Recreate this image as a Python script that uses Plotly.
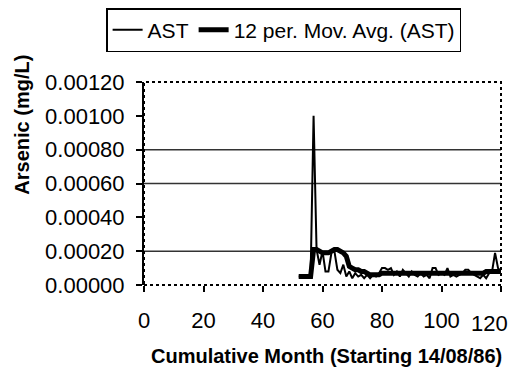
import plotly.graph_objects as go

# ---- data ----
months = list(range(52, 121))
ast = [
    0.00005, 0.00005, 0.00005, 0.00005, 0.00005,   # 52-56
    0.00100, 0.00021, 0.00012, 0.00020, 0.00008,   # 57-61
    0.00008, 0.00019, 0.00020, 0.00009, 0.00007,   # 62-66
    0.00012, 0.00005, 0.00008, 0.00004, 0.00007,   # 67-71
    0.00005, 0.00006, 0.00004, 0.00006, 0.00004,   # 72-76
    0.00006, 0.00005, 0.00007, 0.00010, 0.00010,   # 77-81
    0.00009, 0.00010, 0.00006, 0.00008, 0.00005,   # 82-86
    0.00009, 0.00007, 0.00005, 0.00008, 0.00006,   # 87-91
    0.00005, 0.00007, 0.00005, 0.00006, 0.00004,   # 92-96
    0.00010, 0.00010, 0.00006, 0.00007, 0.00006,   # 97-101
    0.00010, 0.00005, 0.00006, 0.00005, 0.00006,   # 102-106
    0.00007, 0.00009, 0.00009, 0.00007, 0.00006,   # 107-111
    0.00005, 0.00004, 0.00006, 0.00004, 0.00007,   # 112-116
    0.00008, 0.00019, 0.00010, 0.00008,            # 117-120
]
mov_avg = [
    0.00005, 0.00005, 0.00005, 0.00005, 0.00005,   # 52-56
    0.00021, 0.00021, 0.00020, 0.00019, 0.00019,   # 57-61
    0.00019, 0.00020, 0.00021, 0.00021, 0.00020,   # 62-66
    0.00019, 0.00017, 0.00011, 0.00010, 0.00009,   # 67-71
    0.00009, 0.00008, 0.00008, 0.00007, 0.00006,   # 72-76
    0.00006, 0.00006, 0.00006, 0.00007, 0.00007,   # 77-81
    0.00007, 0.00007, 0.00007, 0.00007, 0.00007,   # 82-86
    0.00007, 0.00007, 0.00007, 0.00007, 0.00007,   # 87-91
    0.00007, 0.00007, 0.00007, 0.00007, 0.00007,   # 92-96
    0.00007, 0.00007, 0.00007, 0.00007, 0.00007,   # 97-101
    0.00007, 0.00007, 0.00007, 0.00007, 0.00007,   # 102-106
    0.00007, 0.00007, 0.00007, 0.00007, 0.00007,   # 107-111
    0.00007, 0.00007, 0.00007, 0.00008, 0.00008,   # 112-116
    0.00008, 0.00008, 0.00008, 0.00008,            # 117-120
]
y_ticks = [0.0, 0.0002, 0.0004, 0.0006, 0.0008, 0.0010, 0.0012]
y_tick_labels = ["0.00000", "0.00020", "0.00040", "0.00060", "0.00080", "0.00100", "0.00120"]
x_ticks = [0, 20, 40, 60, 80, 100, 120]
x_tick_labels = ["0", "20", "40", "60", "80", "100", "120"]
grid_values = [0.0002, 0.0006, 0.0008]   # gridlines visible in the reference

FONT = "Liberation Sans, Arial, sans-serif"

fig = go.Figure()
fig.add_trace(go.Scatter(x=months, y=ast, mode="lines", name="AST",
                         line=dict(color="black", width=2)))
fig.add_trace(go.Scatter(x=months, y=mov_avg, mode="lines", name="12 per. Mov. Avg. (AST)",
                         line=dict(color="black", width=5)))

shapes = []
for g in grid_values:
    shapes.append(dict(type="line", xref="paper", yref="y", x0=0, x1=1, y0=g, y1=g,
                       line=dict(color="#333333", width=1.5), layer="below"))
shapes.append(dict(type="rect", xref="paper", yref="paper", x0=0, x1=1, y0=0, y1=1,
                   line=dict(color="black", width=2, dash="dot"), layer="below"))

# the last x tick label sits at the page edge: draw it as an annotation nudged inward
axis_labels = x_tick_labels[:-1] + [""]
annotations = [
    dict(text="<b>Arsenic (mg/L)</b>", textangle=-90, xref="paper", yref="paper",
         x=-0.3417, y=0.79, xanchor="center", yanchor="middle", showarrow=False,
         font=dict(family=FONT, size=20, color="black")),
    dict(text="<b>Cumulative Month (Starting 14/08/86)</b>", xref="paper", yref="paper",
         x=0.5126, y=-0.35, xanchor="center", yanchor="middle", showarrow=False,
         font=dict(family=FONT, size=20, color="black")),
    dict(text=x_tick_labels[-1], xref="x", yref="paper", x=x_ticks[-1], y=-0.189,
         xanchor="right", yanchor="middle", xshift=9, showarrow=False,
         font=dict(family=FONT, size=22, color="black")),
]

fig.update_layout(
    width=511, height=359,
    margin=dict(l=136, r=18, t=74, b=82),
    paper_bgcolor="white", plot_bgcolor="white",
    font=dict(family=FONT, size=20, color="black"),
    showlegend=True,
    legend=dict(orientation="h", xref="container", yref="container",
                x=0.192, xanchor="left", y=1.0, yanchor="top",
                bordercolor="black", borderwidth=1.5,
                font=dict(family=FONT, size=21, color="black"),
                itemwidth=30, tracegroupgap=0),
    shapes=shapes,
    annotations=annotations,
)
fig.update_xaxes(range=[0, 120], tickvals=x_ticks, ticktext=axis_labels, showgrid=False,
                 zeroline=False, showline=False, ticks="outside", ticklen=6, tickwidth=1.5,
                 tickcolor="black", ticklabelstandoff=10, tickfont=dict(size=22),
                 automargin=False, ticklabeloverflow="allow")
fig.update_yaxes(range=[0, 0.0012], tickvals=y_ticks, ticktext=y_tick_labels, showgrid=False,
                 zeroline=False, showline=True, linecolor="black", linewidth=2,
                 ticks="outside", ticklen=6, tickwidth=1.5, tickcolor="black",
                 ticklabelstandoff=7, tickfont=dict(size=22), automargin=False,
                 ticklabeloverflow="allow")

fig.write_html("out.html")
